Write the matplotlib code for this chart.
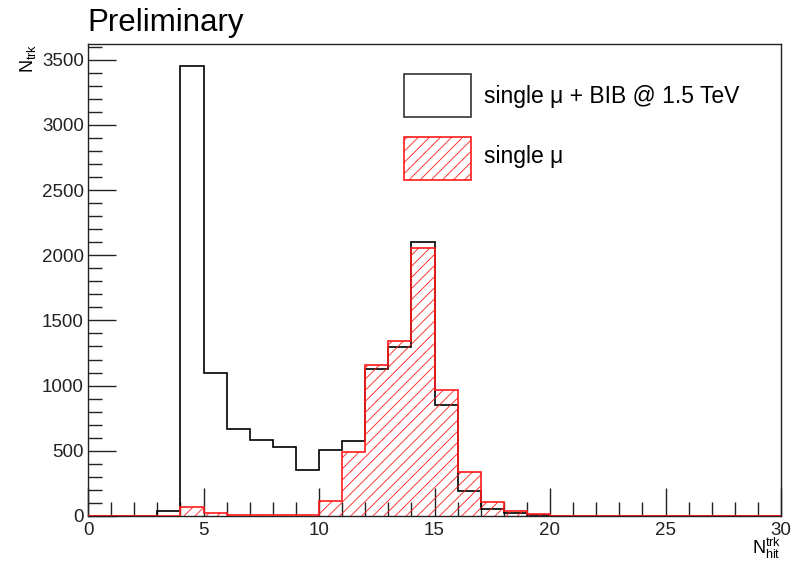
import numpy as np
import matplotlib.pyplot as plt
from matplotlib.patches import Rectangle
from matplotlib.ticker import MultipleLocator

plt.rcParams['font.family'] = ['Liberation Sans', 'DejaVu Sans']
plt.rcParams['hatch.linewidth'] = 0.6

# ---------------- data ----------------
edges = np.arange(0, 31, 1)
# single mu + BIB @ 1.5 TeV
n_bib = [0, 0, 0, 38, 3450, 1095, 668, 584, 533, 352,
         508, 572, 1125, 1298, 2100, 850, 194, 57, 24, 10,
         0, 0, 0, 0, 0, 0, 0, 0, 0, 0]
# single mu only
n_mu = [0, 0, 0, 0, 68, 20, 6, 5, 5, 5,
        113, 490, 1157, 1342, 2057, 970, 334, 108, 40, 15,
        0, 0, 0, 0, 0, 0, 0, 0, 0, 0]

label_bib = "single \u03bc + BIB @ 1.5 TeV"
label_mu = "single \u03bc"

# ---------------- figure ----------------
fig = plt.figure(figsize=(7.95, 5.61), dpi=100)
ax = fig.add_axes([88/795, 1 - 516/561, (781-88)/795, (516-44)/561])

ax.stairs(n_bib, edges, color="black", linewidth=1.2, zorder=3)
ax.stairs(n_mu, edges, fill=True, facecolor="none", edgecolor="#ff1a1a",
          hatch="///", linewidth=1.2, zorder=4)

ax.set_xlim(0, 30)
ax.set_ylim(0, 3620)

ax.xaxis.set_major_locator(MultipleLocator(5))
ax.xaxis.set_minor_locator(MultipleLocator(1))
ax.yaxis.set_major_locator(MultipleLocator(500))
ax.yaxis.set_minor_locator(MultipleLocator(100))
ax.tick_params(which="both", direction="in", top=False, right=False,
               labelsize=13.5, width=1, colors="#222222")
ax.tick_params(which="major", length=20)
ax.tick_params(which="minor", length=10)
ax.tick_params(axis="x", pad=4)
ax.tick_params(axis="y", pad=3)
for sp in ax.spines.values():
    sp.set_linewidth(1)
    sp.set_color("#222222")

# axis titles, ROOT style
fig.text(781/795, 1 - 548/561, r"N$^{\mathregular{trk}}_{\mathregular{hit}}$",
         ha="right", va="center", fontsize=13)
fig.text(28/795, 1 - 58/561, r"N$_{\mathregular{trk}}$", rotation=90,
         ha="center", va="center", fontsize=13)

fig.text(87/795, 1 - 23/561, "Preliminary", ha="left", va="center",
         fontsize=22.5)

# legend drawn by hand in axes-fraction coords
lx0, lw_, lh = (404-88)/693, (471-404)/693, 43/472
ax.add_patch(Rectangle((lx0, 1 - (117-44)/472), lw_, lh, transform=ax.transAxes,
                       facecolor="white", edgecolor="#333333", linewidth=1.2, zorder=6))
ax.add_patch(Rectangle((lx0, 1 - (180-44)/472), lw_, lh, transform=ax.transAxes,
                       facecolor="none", edgecolor="#ff1a1a", hatch="///",
                       linewidth=1.2, zorder=6))
ax.text((484-88)/693, 1 - (96-44)/472, label_bib, transform=ax.transAxes,
        ha="left", va="center", fontsize=16.5, zorder=7)
ax.text((484-88)/693, 1 - (157-44)/472, label_mu, transform=ax.transAxes,
        ha="left", va="center", fontsize=16.5, zorder=7)

fig.savefig("out.png", dpi=100)
